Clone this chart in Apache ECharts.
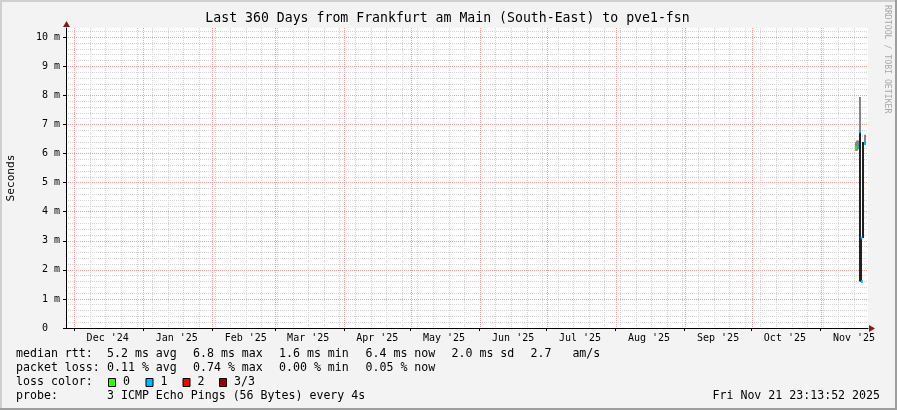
<!DOCTYPE html>
<html><head><meta charset="utf-8">
<script src="https://cdn.jsdelivr.net/npm/echarts@6/dist/echarts.min.js"></script>
<style>html,body{margin:0;padding:0;background:#f3f3f3}#c{width:897px;height:410px}</style>
</head><body><div id="c"></div>
<script>
// ---------- data ----------
const titleText = 'Last 360 Days from Frankfurt am Main (South-East) to pve1-fsn';
const rangeStart = '2024-11-27T07:00';
const rangeDays = 360;
const yMax = 10.32;
const yMajorTicks = [0,1,2,3,4,5,6,7,8,9,10];
const monthStarts = ['2024-12-01','2025-01-01','2025-02-01','2025-03-01','2025-04-01','2025-05-01','2025-06-01','2025-07-01','2025-08-01','2025-09-01','2025-10-01','2025-11-01'];
const monthLabels = ["Dec '24","Jan '25","Feb '25","Mar '25","Apr '25","May '25","Jun '25","Jul '25","Aug '25","Sep '25","Oct '25","Nov '25"];
const firstWeekStart = '2024-12-01';

// smoke (ping spread) segments
const smokeTimes = ['2025-11-16T21:00','2025-11-17T08:00','2025-11-17T19:00','2025-11-18T16:00','2025-11-18T16:00','2025-11-19T03:00','2025-11-20T06:00','2025-11-20T22:40'];
const smokeLow   = [6.10, 6.10, 6.15, 6.75, 1.60, 1.60, 3.10, 6.30];
const smokeHigh  = [6.40, 6.45, 6.45, 7.95, 6.75, 3.10, 6.40, 6.65];
const smokeShade = [0, 0, 0, 0, 1, 1, 1, 0];

// median rtt marks and loss count
const medianTimes = ['2025-11-16T21:00','2025-11-17T19:00','2025-11-18T16:00','2025-11-19T10:00','2025-11-19T14:00','2025-11-20T22:40'];
const medianRtt   = [6.20, 6.25, 6.75, 3.10, 1.60, 6.35];
const medianLoss  = [0, 1, 1, 1, 1, 1];

const lossColors = ['#26ff00','#00b8ff','#ff0000','#a00000'];
const lossLabels = ['0','1','2','3/3'];
const legendLine1 = ['median rtt:','5.2 ms avg','6.8 ms max','1.6 ms min','6.4 ms now','2.0 ms sd','2.7   am/s'];
const legendLine2 = ['packet loss:','0.11 % avg','0.74 % max','0.00 % min','0.05 % now'];
const probeText = ['probe:','3 ICMP Echo Pings (56 Bytes) every 4s'];
const stampText = 'Fri Nov 21 23:13:52 2025';
const watermark = 'RRDTOOL / TOBI OETIKER';

// ---------- build ----------
const DAY = 86400000;
const ts = s => Date.parse(s.length === 10 ? s + 'T00:00:00Z' : s + ':00Z');
const xMin = ts(rangeStart);
const xMax = xMin + rangeDays * DAY;
const monthTs = monthStarts.map(ts);
const labelTs = monthTs.map(t => t + 15 * DAY);
const weekTs = [];
for (let t = ts(firstWeekStart); t < xMax; t += 7 * DAY) weekTs.push(t);

const FONT = '"DejaVu Sans Mono", monospace';
const gridTop = 28, gridLeft = 66, gridRight = 29, gridBottom = 82;

const chart = echarts.init(document.getElementById('c'), null, {renderer: 'canvas'});

function vLineRender(color) {
  return function (params, api) {
    const cs = params.coordSys;
    const x = Math.round(api.coord([api.value(0), 0])[0]) + 0.5;
    return {type: 'line', silent: true,
      shape: {x1: x, y1: cs.y, x2: x, y2: cs.y + cs.height},
      style: {stroke: color, lineWidth: 1, lineDash: [1, 1]}};
  };
}

const smokeData = smokeTimes.map((t, i) => [ts(t), smokeLow[i], smokeHigh[i], smokeShade[i]]);
const medianData = medianTimes.map((t, i) => [ts(t), medianRtt[i], medianLoss[i]]);

const graphics = [];
graphics.push({type:'rect', shape:{x:0,y:0,width:897,height:2}, style:{fill:'#cfcfcf'}, silent:true});
graphics.push({type:'rect', shape:{x:0,y:0,width:2,height:410}, style:{fill:'#cfcfcf'}, silent:true});
graphics.push({type:'rect', shape:{x:895,y:0,width:2,height:410}, style:{fill:'#9e9e9e'}, silent:true});
graphics.push({type:'rect', shape:{x:0,y:408,width:897,height:2}, style:{fill:'#9e9e9e'}, silent:true});
graphics.push({type:'polygon', shape:{points:[[63,27],[70,27],[66.5,21]]}, style:{fill:'#8b1a1a'}, silent:true, z:100});
graphics.push({type:'polygon', shape:{points:[[869,325],[869,332],[875,328.5]]}, style:{fill:'#8b1a1a'}, silent:true, z:100});
graphics.push({type:'text', x:447.5, y:19, style:{text:titleText, fontSize:13.2, fontFamily:FONT, fill:'#000', align:'center', verticalAlign:'middle'}});
graphics.push({type:'text', x:887, y:5, rotation:-Math.PI/2, style:{text:watermark, fontSize:8.2, fontFamily:FONT, fill:'#a8a8a8', align:'left', verticalAlign:'middle'}});
const colX = [16, 107, 193, 279, 365.5, 451.5, 530.5];
legendLine1.forEach((s, i) => graphics.push({type:'text', x:colX[i], y:354, style:{text:s, fontSize:11.6, fontFamily:FONT, fill:'#000', verticalAlign:'middle'}}));
legendLine2.forEach((s, i) => graphics.push({type:'text', x:colX[i], y:368, style:{text:s, fontSize:11.6, fontFamily:FONT, fill:'#000', verticalAlign:'middle'}}));
graphics.push({type:'text', x:16, y:382, style:{text:'loss color:', fontSize:11.6, fontFamily:FONT, fill:'#000', verticalAlign:'middle'}});
const boxX = [108, 145.5, 182.5, 219];
lossLabels.forEach((s, i) => {
  graphics.push({type:'rect', shape:{x:boxX[i]+0.5, y:378.5, width:7, height:8}, style:{fill:lossColors[i], stroke:'#000', lineWidth:1}});
  graphics.push({type:'text', x:boxX[i]+15, y:382, style:{text:s, fontSize:11.6, fontFamily:FONT, fill:'#000', verticalAlign:'middle'}});
});
graphics.push({type:'text', x:16, y:396, style:{text:probeText[0], fontSize:11.6, fontFamily:FONT, fill:'#000', verticalAlign:'middle'}});
graphics.push({type:'text', x:107, y:396, style:{text:probeText[1], fontSize:11.6, fontFamily:FONT, fill:'#000', verticalAlign:'middle'}});
graphics.push({type:'text', x:880, y:396, style:{text:stampText, fontSize:11.6, fontFamily:FONT, fill:'#000', align:'right', verticalAlign:'middle'}});

const option = {
  animation: false,
  backgroundColor: '#f3f3f3',
  grid: {left: gridLeft, right: gridRight, top: gridTop, bottom: gridBottom, show: true, backgroundColor: '#ffffff', borderWidth: 0, containLabel: false, outerBoundsMode: 'none'},
  xAxis: [{
    type: 'value', min: xMin, max: xMax,
    axisLine: {show: true, lineStyle: {color: '#000', width: 1}},
    axisTick: {show: true, length: 3, customValues: monthTs, lineStyle: {color: '#000'}},
    axisLabel: {show: true, customValues: labelTs, margin: 5, fontSize: 10, fontFamily: FONT, color: '#000',
      formatter: v => { const i = labelTs.indexOf(v); return i >= 0 ? monthLabels[i] : ''; }},
    splitLine: {show: false}
  }],
  yAxis: [{
    type: 'value', min: 0, max: yMax, interval: 1, z: 2,
    name: 'Seconds', nameLocation: 'middle', nameGap: 49, nameRotate: 90,
    nameTextStyle: {fontSize: 11.2, fontFamily: FONT, color: '#000'},
    axisLine: {show: true, lineStyle: {color: '#000', width: 1}},
    axisTick: {show: true, length: 3, lineStyle: {color: '#000'}},
    axisLabel: {show: true, margin: 6, fontSize: 10, fontFamily: FONT, color: '#000',
      showMaxLabel: false,
      formatter: v => { const r = Math.round(v); if (Math.abs(v - r) > 1e-6 || yMajorTicks.indexOf(r) < 0) return ''; return r === 0 ? '0  ' : r + ' m'; }},
    splitLine: {show: true, showMaxLine: false, showMinLine: false, lineStyle: {color: '#f2a0a0', width: 1, type: [1, 1]}}
  }, {
    type: 'value', min: 0, max: yMax, interval: 0.2, z: 1, position: 'left', offset: 0,
    axisLine: {show: false}, axisTick: {show: false}, axisLabel: {show: false},
    splitLine: {show: true, showMaxLine: false, showMinLine: false, lineStyle: {color: '#d4d4d4', width: 1, type: [1, 1]}}
  }],
  graphic: graphics,
  series: [
    {type: 'custom', name: 'weekGrid', z: 1, silent: true, clip: true, xAxisIndex: 0, yAxisIndex: 0,
     data: weekTs.map(t => [t]), renderItem: vLineRender('#d4d4d4')},
    {type: 'custom', name: 'monthGrid', z: 1, silent: true, clip: true, xAxisIndex: 0, yAxisIndex: 0,
     data: monthTs.map(t => [t]), renderItem: vLineRender('#f2a0a0')},
    {type: 'custom', name: 'smoke', z: 3, silent: true, clip: true, xAxisIndex: 0, yAxisIndex: 0,
     data: smokeData,
     renderItem: function (params, api) {
       const shade = api.value(3);
       const w = 2;
       const pHi = api.coord([api.value(0), api.value(2)]);
       const pLo = api.coord([api.value(0), api.value(1)]);
       const x = Math.round(pHi[0] - w / 2);
       return {type: 'rect', shape: {x: x, y: pHi[1], width: w, height: pLo[1] - pHi[1]},
         style: {fill: shade === 1 ? '#222222' : '#858585'}};
     }},
    {type: 'scatter', name: 'median', z: 4, silent: true, xAxisIndex: 0, yAxisIndex: 0,
     symbol: 'rect', symbolSize: [2, 3],
     data: medianData,
     itemStyle: {color: p => lossColors[p.value[2]]}}
  ]
};
chart.setOption(option);
</script>
</body></html>
